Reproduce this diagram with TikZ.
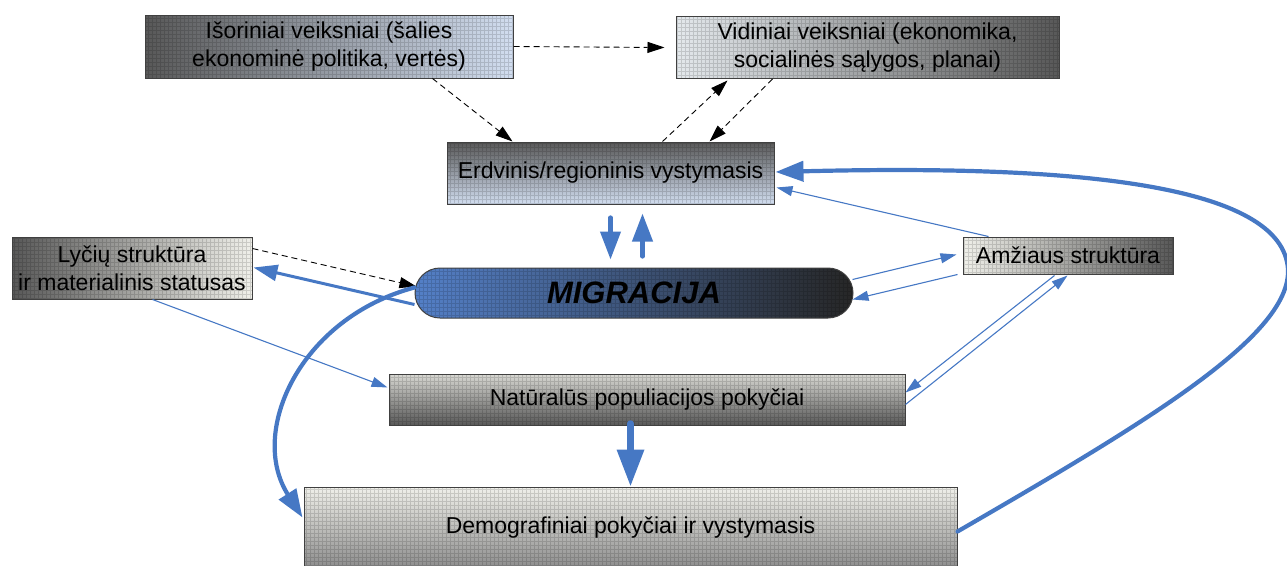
\documentclass[tikz,border=0pt]{standalone}
\usepackage{fontspec}
\setmainfont{Liberation Sans}
\usetikzlibrary{arrows.meta,calc}
\definecolor{bl}{RGB}{70,120,196}
\definecolor{dk}{RGB}{88,88,88}
\definecolor{ltblue}{RGB}{210,222,240}
\definecolor{ltgrey}{RGB}{240,240,234}
\definecolor{migblue}{RGB}{84,128,200}
\begin{document}
\begin{tikzpicture}[x=1pt,y=-1pt,
  box/.style={draw=black!75, line width=1pt, rectangle, inner sep=2pt, align=center,
    font=\fontsize{23}{28}\selectfont,
    path picture={\draw[black, opacity=0.14, line width=0.5pt]
      (path picture bounding box.south west) grid[step=4pt] (path picture bounding box.north east);}},
  dsh/.style={draw=black, line width=0.9pt, dash pattern=on 6pt off 4pt, -{Triangle[length=17pt,width=11pt]}},
  thinarr/.style={draw=bl, line width=1.1pt, -{Triangle[length=16pt,width=10pt]}},
  thickarr/.style={draw=bl, line width=4.2pt, line cap=round, -{Triangle[length=28pt,width=20pt]}},
  heavyarr/.style={draw=bl, line width=6.5pt, line cap=round, -{Triangle[length=37pt,width=26pt]}},
  midarr/.style={draw=bl, line width=3pt, -{Triangle[length=24pt,width=16pt]}}
]
\useasboundingbox (0,0) rectangle (1287,565);
\clip (0,0) rectangle (1287,565);

% nodes
\node[box, minimum width=368pt, minimum height=63pt, left color=dk, right color=ltblue] (ext) at (329,46.5)
  {Išoriniai veiksniai (šalies\\ekonominė politika, vertės)};
\node[box, minimum width=383pt, minimum height=62pt, left color=ltgrey!60!ltblue, right color=dk] (vid) at (867.5,47.5)
  {Vidiniai veiksniai (ekonomika,\\socialinės sąlygos, planai)};
\node[box, minimum width=327pt, minimum height=62pt, top color=dk, bottom color=ltblue] (erd) at (610.5,173)
  {Erdvinis/regioninis vystymasis};
\node[box, minimum width=240pt, minimum height=62pt, left color=dk, right color=ltgrey] (lyc) at (132,268)
  {Lyčių struktūra\\ir materialinis statusas};
\node[box, minimum width=210pt, minimum height=37pt, left color=ltgrey, right color=dk] (amz) at (1068,255.5)
  {Amžiaus struktūra};
\node[box, minimum width=438pt, minimum height=50pt, rounded corners=25pt,
  left color=migblue, middle color=migblue!55!black!75, right color=black!85,
  font=\fontsize{31}{34}\selectfont\bfseries\itshape] (mig) at (634,293) {MIGRACIJA};
\node[box, minimum width=516pt, minimum height=51pt, top color=ltgrey!90!black, bottom color=dk] (nat) at (647,399.5)
  {Natūralūs populiacijos pokyčiai};
\node[box, minimum width=653pt, minimum height=81pt, top color=ltgrey, bottom color=black!45] (dem) at (630.5,527.5)
  {Demografiniai pokyčiai ir vystymasis};

% dashed black connectors
\draw[dsh] (ext.east) -- ($(vid.west)+(-11,0)$);
\draw[dsh] ($(ext.south west)+(288,0)$) -- ($(erd.north west)+(66,0)$);
\draw[dsh] ($(erd.north west)+(216,0)$) -- ($(vid.south west)+(52,1.5)$);
\draw[dsh] ($(vid.south west)+(97,0)$) -- ($(erd.north west)+(263,0)$);
\draw[dsh] ($(lyc.north east)+(0,12)$) -- ($(mig.north west)+(2,19)$);

% thick blue connectors
\draw[thickarr] ($(erd.south west)+(164,13)$) -- ($(mig.north west)+(196,-8)$);
\draw[thickarr] ($(mig.north west)+(228,-11)$) -- ($(erd.south west)+(196,9)$);
\draw[midarr] ($(mig.north west)+(0,37)$) -- ($(lyc.north east)+(1,31)$);
\draw[heavyarr] ($(nat.south west)+(242,-2)$) -- ($(dem.north west)+(327,0)$);
\draw[thickarr] ($(mig.north west)+(0,20)$) .. controls (300,318) and (248,432) .. ($(dem.north west)+(-1,31)$);
\draw[thickarr] ($(dem.north east)+(0,45)$) .. controls (1150,420) and (1302,330) .. (1287,262)
  .. controls (1270,180) and (1050,165) .. ($(erd.east)+(1,-1)$);

% thin blue connectors
\draw[thinarr] ($(lyc.south west)+(141,0)$) -- ($(nat.north west)+(-1,14)$);
\draw[thinarr] ($(mig.north east)+(-1,12)$) -- ($(amz.north west)+(-6,18)$);
\draw[thinarr] ($(amz.south west)+(-5,0)$) -- ($(mig.north east)+(-1,32)$);
\draw[thinarr] ($(amz.north west)+(26,0)$) -- ($(erd.south east)+(2,-17)$);
\draw[thinarr] ($(amz.south west)+(92,1)$) -- ($(nat.north east)+(0,19)$);
\draw[thinarr] ($(nat.north east)+(0,31)$) -- ($(amz.south west)+(105,1)$);
\end{tikzpicture}
\end{document}
